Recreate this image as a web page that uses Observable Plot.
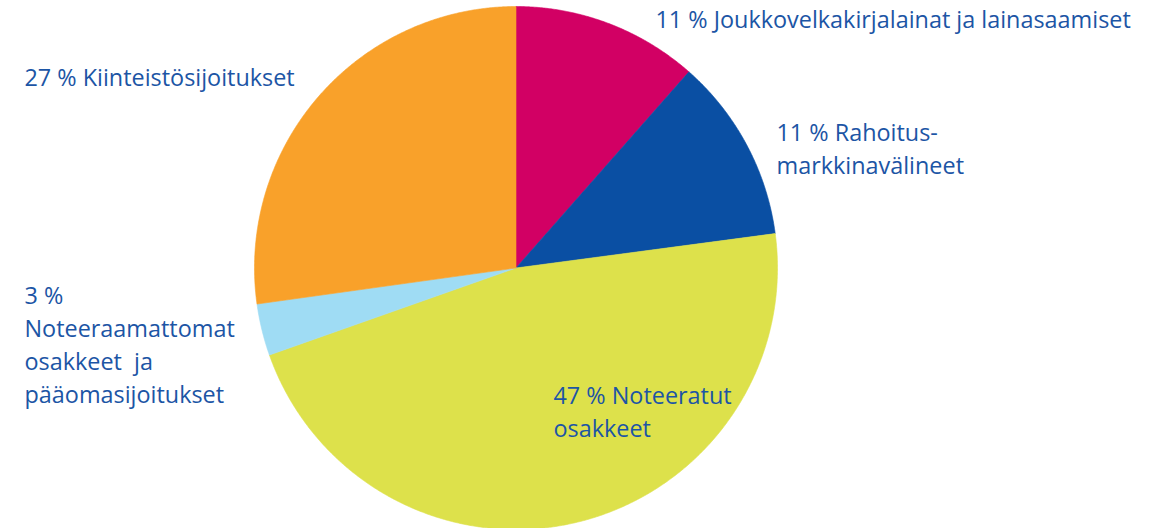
<!DOCTYPE html>
<html>
<head>
<meta charset="utf-8">
<script src="https://cdn.jsdelivr.net/npm/d3@7"></script>
<script src="https://cdn.jsdelivr.net/npm/@observablehq/plot@0.6"></script>
<style>
  html, body { margin: 0; padding: 0; background: #fff; }
  #chart svg { display: block; }
</style>
</head>
<body>
<div id="chart"></div>
<script>
// Data (clockwise from 12 o'clock)
const categories = [
  "Joukkovelkakirjalainat ja lainasaamiset",
  "Rahoitusmarkkinavälineet",
  "Noteeratut osakkeet",
  "Noteeraamattomat osakkeet ja pääomasijoitukset",
  "Kiinteistösijoitukset"
];
const shares = [11.5, 11.4, 46.7, 3.2, 27.2];
const labels = [
  "11 % Joukkovelkakirjalainat ja lainasaamiset",
  "11 % Rahoitus-\nmarkkinavälineet",
  "47 % Noteeratut\nosakkeet",
  "3 %\nNoteeraamattomat\nosakkeet  ja\npääomasijoitukset",
  "27 % Kiinteistösijoitukset"
];
const colors = ["#d20064", "#0a4fa3", "#dde14b", "#9fdcf4", "#f9a12a"];

// Layout (pixels)
const W = 1166, H = 528;
const cx = 515.5, cy = 267.5, R = 261.5;
// label anchor positions (text start x, top y) in pixels
const labelPos = [[655, 4], [776, 117], [553, 380], [24, 280], [24, 62]];

const arcs = d3.pie().sort(null).value(d => d)(shares);
const pts = [];
arcs.forEach((a, i) => {
  const cat = categories[i];
  pts.push({cat, u: 0, v: 0});
  const n = Math.max(8, Math.ceil((a.endAngle - a.startAngle) / 0.005));
  for (let k = 0; k <= n; k++) {
    const t = a.startAngle + (a.endAngle - a.startAngle) * k / n;
    pts.push({cat, u: Math.sin(t), v: -Math.cos(t)});
  }
  pts.push({cat, u: 0, v: 0});
});

const textData = labels.map((l, i) => ({
  text: l,
  u: (labelPos[i][0] - cx) / R,
  v: (labelPos[i][1] - cy) / R
}));

const chart = Plot.plot({
  width: W,
  height: H,
  margin: 0,
  style: {background: "#fff"},
  x: {domain: [-cx / R, (W - cx) / R], range: [0, W], axis: null},
  y: {domain: [-cy / R, (H - cy) / R], range: [0, H], axis: null},
  color: {domain: categories, range: colors},
  marks: [
    Plot.line(pts, {x: "u", y: "v", z: "cat", fill: "cat", stroke: "cat", strokeWidth: 0.6, curve: "linear"}),
    Plot.text(textData, {
      x: "u", y: "v", text: "text",
      textAnchor: "start", lineAnchor: "top", lineHeight: 1.41,
      fontSize: 23.4, fontFamily: "Open Sans", fill: "#1c55a5"
    })
  ]
});
document.getElementById("chart").appendChild(chart);
</script>
</body>
</html>
